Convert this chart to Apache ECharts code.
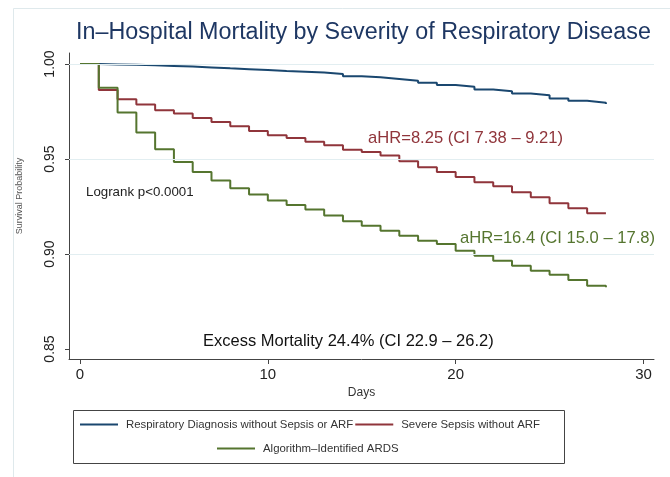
<!DOCTYPE html>
<html>
<head>
<meta charset="utf-8">
<script src="https://cdn.jsdelivr.net/npm/echarts@6/dist/echarts.min.js"></script>
<style>
html,body{margin:0;padding:0;background:#fff;}
#chart{width:670px;height:477px;}
</style>
</head>
<body>
<div id="chart"></div>
<script>
var days = [0,1,2,3,4,5,6,7,8,9,10,11,12,13,14,15,16,17,18,19,20,21,22,23,24,25,26,27,28];
// survival by day (value after the step at that day)
var respNoSepsis = [1.0000,0.9998,0.9996,0.9993,0.9990,0.9987,0.9982,0.9977,0.9973,0.9968,0.9963,0.9959,0.9955,0.9947,0.9936,0.9930,0.9921,0.9912,0.9901,0.9889,0.9880,0.9866,0.9857,0.9845,0.9835,0.9819,0.9806,0.9796,0.9789];
var sepsisNoArf = [1.0000,0.9863,0.9815,0.9787,0.9757,0.9740,0.9716,0.9695,0.9672,0.9648,0.9625,0.9611,0.9591,0.9572,0.9549,0.9537,0.9519,0.9488,0.9457,0.9431,0.9405,0.9378,0.9356,0.9325,0.9299,0.9267,0.9241,0.9214,0.9214];
var ards = [1.0000,0.9875,0.9745,0.9639,0.9551,0.9484,0.9431,0.9387,0.9346,0.9313,0.9281,0.9258,0.9234,0.9202,0.9172,0.9149,0.9123,0.9096,0.9070,0.9053,0.9017,0.8991,0.8964,0.8938,0.8912,0.8891,0.8863,0.8833,0.8825];
var seriesNames = ['Respiratory Diagnosis without Sepsis or ARF','Severe Sepsis without ARF','Algorithm\u2013Identified ARDS'];
var xTicks = [0,10,20,30];
var yTicks = [0.85,0.90,0.95,1.00];
var yGrid = [0.90,0.95,1.00];

var NAVY = '#1a476f', MAROON = '#90353b', GREEN = '#55752f';
var FONT = '"Liberation Sans", Arial, Helvetica, sans-serif';

function pairs(vals){
    var out = [];
    for(var i=0;i<days.length;i++){
        out.push([days[i], vals[i]]);
    }
    return out;
}

function kmSeries(name, vals, color){
    return {
        name: name,
        type: 'line',
        step: 'end',
        data: pairs(vals),
        showSymbol: false,
        symbol: 'none',
        lineStyle: {color: color, width: 2},
        itemStyle: {color: color},
        emphasis: {disabled: true},
        z: 3
    };
}

// light horizontal reference lines at the major ticks (none at the bottom tick)
var gridSeries = {
    name: 'grid',
    type: 'line',
    data: [],
    silent: true,
    z: 1,
    markLine: {
        silent: true,
        symbol: 'none',
        label: {show: false},
        lineStyle: {color: '#e2eef1', width: 1.2, type: 'solid'},
        data: yGrid.map(function(v){ return {yAxis: v}; })
    }
};

var legendText = {fontSize: 11.4, color: '#333', fontFamily: FONT, padding: [0, 0, 0, 3]};

var myChart = echarts.init(document.getElementById('chart'), null, {renderer: 'canvas'});
var option = {
    backgroundColor: '#ffffff',
    animation: false,
    textStyle: {fontFamily: FONT},
    title: {
        text: 'In\u2013Hospital Mortality by Severity of Respiratory Disease',
        left: 76,
        top: 21,
        padding: 0,
        textStyle: {fontSize: 23.3, fontWeight: 'normal', color: '#1e3763', fontFamily: FONT}
    },
    grid: {left: 69, right: 16, top: 53, bottom: 118, containLabel: false},
    xAxis: {
        type: 'value',
        min: -0.586,
        max: 30.56,
        name: 'Days',
        nameLocation: 'middle',
        nameGap: 27,
        nameTextStyle: {fontSize: 12, color: '#333'},
        axisLine: {show: true, onZero: false, lineStyle: {color: '#444', width: 1}},
        axisTick: {show: true, inside: false, length: 5, customValues: xTicks, lineStyle: {color: '#444'}},
        axisLabel: {show: true, customValues: xTicks, fontSize: 15, color: '#222', margin: 8},
        splitLine: {show: false}
    },
    yAxis: {
        type: 'value',
        min: 0.84474,
        max: 1.00579,
        axisLine: {show: true, onZero: false, lineStyle: {color: '#444', width: 1}},
        axisTick: {show: true, inside: false, length: 4, customValues: yTicks, lineStyle: {color: '#444'}},
        axisLabel: {
            show: true, customValues: yTicks, fontSize: 14, color: '#222', rotate: 90, margin: 12,
            formatter: function(v){ return v.toFixed(2); }
        },
        splitLine: {show: false}
    },
    legend: [
        {
            data: [seriesNames[0], seriesNames[1]],
            left: 80, top: 419, padding: 0,
            itemWidth: 38, itemHeight: 2, itemGap: 2,
            icon: 'rect',
            textStyle: legendText
        },
        {
            data: [seriesNames[2]],
            left: 217, top: 443, padding: 0,
            itemWidth: 38, itemHeight: 2,
            icon: 'rect',
            textStyle: legendText
        }
    ],
    graphic: [
        {type: 'rect', silent: true, z: -10, shape: {x: 13.5, y: 8.5, width: 700, height: 500}, style: {fill: null, stroke: '#dfe9ec', lineWidth: 1}},
        {type: 'rect', silent: true, shape: {x: 73.5, y: 410.5, width: 491, height: 53}, style: {fill: null, stroke: '#444', lineWidth: 1}},
        {type: 'text', silent: true, rotation: Math.PI/2, x: 20, y: 196,
         style: {text: 'Survival Probability', font: '9px ' + FONT, fill: '#555', align: 'center', verticalAlign: 'middle'}},
        {type: 'text', silent: true, x: 86, y: 192,
         style: {text: 'Logrank p<0.0001', font: '13.3px ' + FONT, fill: '#222', verticalAlign: 'middle'}},
        {type: 'text', silent: true, x: 368, y: 138,
         style: {text: 'aHR=8.25 (CI 7.38 \u2013 9.21)', font: '16.6px ' + FONT, fill: MAROON, verticalAlign: 'middle'}},
        {type: 'text', silent: true, x: 460, y: 238,
         style: {text: 'aHR=16.4 (CI 15.0 \u2013 17.8)', font: '16.6px ' + FONT, fill: GREEN, verticalAlign: 'middle'}},
        {type: 'text', silent: true, x: 203, y: 341,
         style: {text: 'Excess Mortality 24.4% (CI 22.9 \u2013 26.2)', font: '16.5px ' + FONT, fill: '#111', verticalAlign: 'middle'}}
    ],
    series: [
        gridSeries,
        kmSeries(seriesNames[0], respNoSepsis, NAVY),
        kmSeries(seriesNames[1], sepsisNoArf, MAROON),
        kmSeries(seriesNames[2], ards, GREEN)
    ]
};

if (option && typeof option === "object") {
    myChart.setOption(option, true);
}
</script>
</body>
</html>
